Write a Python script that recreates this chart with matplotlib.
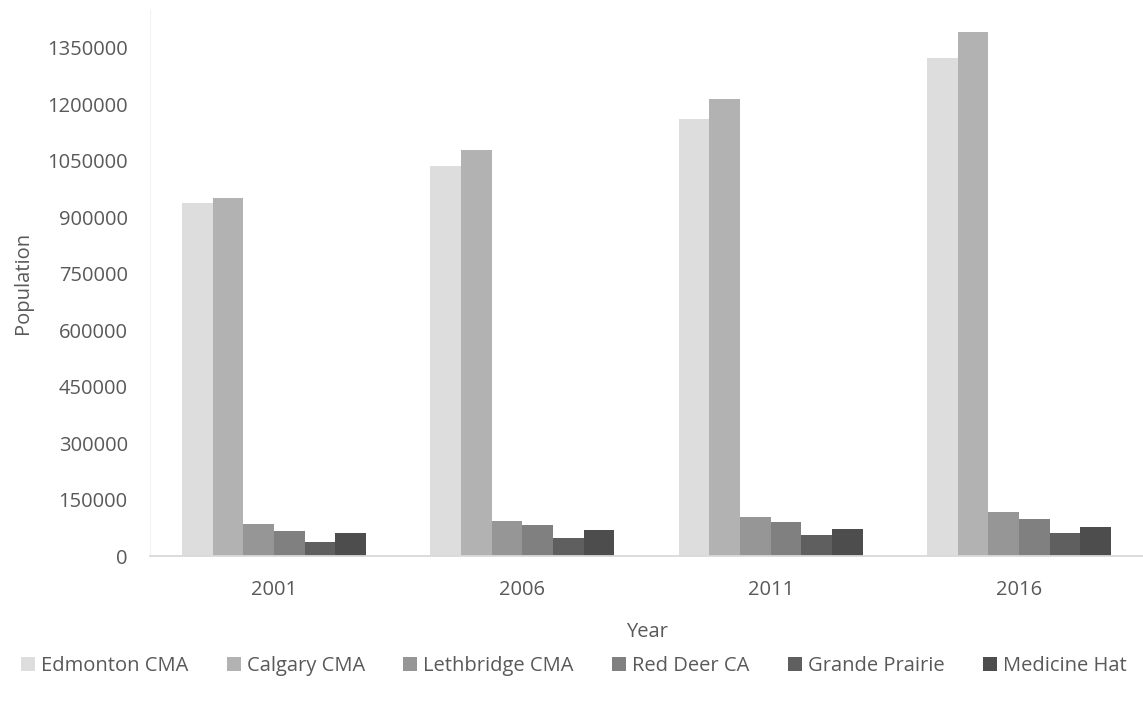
import numpy as np
import matplotlib
matplotlib.use("Agg")
import matplotlib.pyplot as plt
from matplotlib.ticker import FuncFormatter

# Census population by area
years = ["2001", "2006", "2011", "2016"]
edmonton = [937845, 1034945, 1159869, 1321426]
calgary = [951395, 1079310, 1214839, 1392609]
lethbridge = [86000, 93500, 104000, 117000]
red_deer = [67000, 82500, 90500, 98500]
grande_prairie = [36000, 48000, 55500, 61500]
medicine_hat = [61500, 69000, 72000, 77000]

series = [
    ("Edmonton CMA", edmonton, "#dddddd"),
    ("Calgary CMA", calgary, "#b2b2b2"),
    ("Lethbridge CMA", lethbridge, "#969696"),
    ("Red Deer CA", red_deer, "#808080"),
    ("Grande Prairie", grande_prairie, "#5f5f5f"),
    ("Medicine Hat", medicine_hat, "#4d4d4d"),
]

plt.rcParams["font.family"] = ["Open Sans", "DejaVu Sans"]
text_col = "#595959"
fs = 14.5

fig = plt.figure(figsize=(11.43, 7.11), dpi=100)
ax = fig.add_axes([0.1312, 0.218, 0.869, 0.768])

x = np.arange(len(years))
group = 1 / 1.35
w = group / len(series)
for i, (name, vals, col) in enumerate(series):
    ax.bar(x - group / 2 + w * (i + 0.5), vals, width=w, color=col, label=name)

ax.set_xlim(-0.5, len(years) - 0.5)
ax.set_ylim(0, 1450000)
ax.set_yticks(np.arange(0, 1350001, 150000))
ax.yaxis.set_major_formatter(FuncFormatter(lambda v, p: f"{int(v)}"))
ax.set_xticks(x)
ax.set_xticklabels(years)

for s in ["top", "right"]:
    ax.spines[s].set_visible(False)
ax.spines["left"].set_color("#f2f2f2")
ax.spines["bottom"].set_color("#d9d9d9")
ax.spines["bottom"].set_linewidth(1.3)
ax.tick_params(axis="both", length=0, labelsize=fs, colors=text_col)
ax.tick_params(axis="y", pad=16)
ax.tick_params(axis="x", pad=17)

ax.set_ylabel("Population", fontsize=fs, color=text_col, labelpad=10)
ax.set_xlabel("Year", fontsize=fs, color=text_col, labelpad=16)

fig.legend(loc="center", bbox_to_anchor=(0.502, 0.063), ncol=6, frameon=False,
           fontsize=fs, labelcolor=text_col, handlelength=0.7, handleheight=0.7,
           handletextpad=0.3, columnspacing=1.9)

fig.savefig("out.png", dpi=100)
